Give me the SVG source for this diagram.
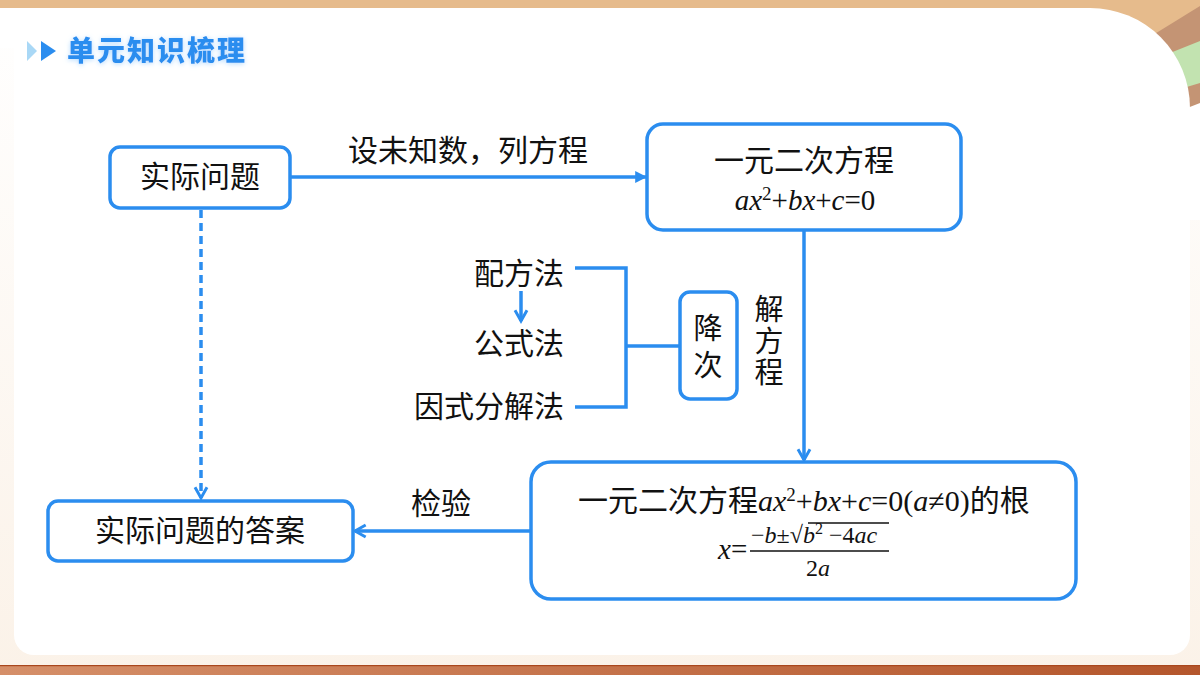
<svg xmlns="http://www.w3.org/2000/svg" width="1200" height="675" viewBox="0 0 1200 675">
<defs>
<linearGradient id="bg" x1="0" y1="0" x2="0" y2="1">
<stop offset="0" stop-color="#ffffff"/>
<stop offset="1" stop-color="#fbf2e8"/>
</linearGradient>
<linearGradient id="strip" x1="0" y1="0" x2="1" y2="0">
<stop offset="0" stop-color="#d58f69"/>
<stop offset="1" stop-color="#b4562c"/>
</linearGradient>
<filter id="glow" x="-10%" y="-30%" width="120%" height="160%">
<feDropShadow dx="0" dy="1" stdDeviation="2.5" flood-color="#9fd0ff" flood-opacity="0.8"/>
</filter>
<marker id="tri" viewBox="0 0 10 10" refX="9" refY="5" markerWidth="12" markerHeight="12" markerUnits="userSpaceOnUse" orient="auto">
<path d="M0,0 L10,5 L0,10 z" fill="#2b8def"/>
</marker>
<marker id="chev" viewBox="0 0 12 12" refX="10" refY="6" markerWidth="16" markerHeight="16" markerUnits="userSpaceOnUse" orient="auto">
<path d="M2,1.5 L10,6 L2,10.5" fill="none" stroke="#2b8def" stroke-width="2.2" stroke-linejoin="miter"/>
</marker>
</defs>
<style>
.box{fill:#ffffff;stroke:#2b8def;stroke-width:3.5}
.ln{fill:none;stroke:#2b8def;stroke-width:3.5}
.t{font-family:"Noto Sans CJK SC","Noto Sans",sans-serif;font-size:30px;fill:#111111}
.v{font-size:29px}
.m{font-family:"Liberation Serif","Times New Roman",serif;font-size:29px;fill:#111111}
.m2{font-size:30px}
.i{font-style:italic}
.sup{font-size:19px}
.f{font-family:"Liberation Serif","DejaVu Serif",serif;font-size:24px;fill:#111111}
.fs{font-size:16px}
</style>

<!-- background -->
<rect x="0" y="0" width="1200" height="675" fill="url(#bg)"/>
<rect x="0" y="0" width="1200" height="40" fill="#e6bb8c"/>
<polygon points="1080,80 1200,6 1200,200 1080,200" fill="#c49474"/>
<polygon points="1080,89 1200,41 1200,83 1080,119" fill="#c2e3b0"/>
<polygon points="1080,150 1200,103 1200,220 1080,220" fill="#ffffff"/>
<path d="M14,8 H1090 A100,100 0 0 1 1190,108 V635 A20,20 0 0 1 1170,655 H34 A20,20 0 0 1 14,635 Z" fill="#ffffff"/>
<rect x="0" y="8" width="14" height="40" fill="#ffffff"/>
<rect x="0" y="665" width="1200" height="10" fill="url(#strip)"/>
<rect x="0" y="665" width="1200" height="1.2" fill="#a9471d"/>

<!-- title -->
<g id="title">
<polygon points="27,41 37,51 27,61" fill="#a9d8f6"/>
<polygon points="41,41 56,51 41,61" fill="#2b8def"/>
<text x="67" y="61" filter="url(#glow)" style="font-family:'Noto Sans CJK SC',sans-serif;font-size:28px;font-weight:900;fill:#2b8def;letter-spacing:2px">单元知识梳理</text>
</g>

<!-- connectors -->
<g id="connectors">
<line class="ln" x1="291" y1="177" x2="646" y2="177" marker-end="url(#tri)"/>
<line class="ln" x1="804" y1="231" x2="804" y2="460" marker-end="url(#chev)"/>
<line class="ln" x1="201" y1="210" x2="201" y2="498" stroke-dasharray="8 5" marker-end="url(#chev)"/>
<line class="ln" x1="530" y1="531" x2="355" y2="531" marker-end="url(#chev)"/>
<line class="ln" x1="521" y1="291" x2="521" y2="321" marker-end="url(#chev)"/>
<polyline class="ln" points="575,268 626,268 626,407 575,407"/>
<line class="ln" x1="626" y1="346" x2="679" y2="346"/>
<text class="t" x="348" y="161">设未知数，列方程</text>
<text class="t v" x="769" y="320" text-anchor="middle">解</text>
<text class="t v" x="769" y="352" text-anchor="middle">方</text>
<text class="t v" x="769" y="383" text-anchor="middle">程</text>
<text class="t" x="441" y="514" text-anchor="middle">检验</text>
</g>

<!-- nodes -->
<g id="node-problem">
<rect class="box" x="110" y="147" width="180" height="61" rx="10"/>
<text class="t" x="200" y="187" text-anchor="middle">实际问题</text>
</g>

<g id="node-equation">
<rect class="box" x="647" y="124" width="314" height="106" rx="16"/>
<text class="t" x="804" y="171" text-anchor="middle">一元二次方程</text>
<text class="m" x="805" y="210" text-anchor="middle"><tspan class="i">ax</tspan><tspan class="sup" dy="-10">2</tspan><tspan dy="10">+</tspan><tspan class="i">bx</tspan>+<tspan class="i">c</tspan>=0</text>
</g>

<g id="node-methods">
<text class="t" x="564" y="284" text-anchor="end">配方法</text>
<text class="t" x="564" y="354" text-anchor="end">公式法</text>
<text class="t" x="564" y="417" text-anchor="end">因式分解法</text>
</g>

<g id="node-reduce">
<rect class="box" x="680" y="292" width="57" height="107" rx="10"/>
<text class="t v" x="708" y="339" text-anchor="middle">降</text>
<text class="t v" x="708" y="376" text-anchor="middle">次</text>
</g>

<g id="node-answer">
<rect class="box" x="48" y="501" width="305" height="60" rx="10"/>
<text class="t" x="200" y="541" text-anchor="middle">实际问题的答案</text>
</g>

<g id="node-roots">
<rect class="box" x="531" y="462" width="545" height="137" rx="20"/>
<text x="578" y="511"><tspan class="t">一元二次方程</tspan><tspan class="m m2 i">ax</tspan><tspan class="m sup" dy="-10">2</tspan><tspan class="m m2" dy="10">+</tspan><tspan class="m m2 i">bx</tspan><tspan class="m m2">+</tspan><tspan class="m m2 i">c</tspan><tspan class="m m2">=0(</tspan><tspan class="m m2 i">a</tspan><tspan class="m m2">≠0)</tspan><tspan class="t">的根</tspan></text>
<text class="m" x="718" y="559"><tspan class="i">x</tspan>=</text>
<text class="f" x="751" y="543">−<tspan class="i">b</tspan>±√<tspan class="i">b</tspan><tspan class="fs" dy="-9">2</tspan><tspan dy="9"> −4</tspan><tspan class="i">ac</tspan></text>
<line x1="808" y1="523" x2="889" y2="523" stroke="#111111" stroke-width="1.3"/>
<line x1="750" y1="551" x2="889" y2="551" stroke="#111111" stroke-width="1.5"/>
<text class="f" x="818" y="576" text-anchor="middle">2<tspan class="i">a</tspan></text>
</g>
</svg>
